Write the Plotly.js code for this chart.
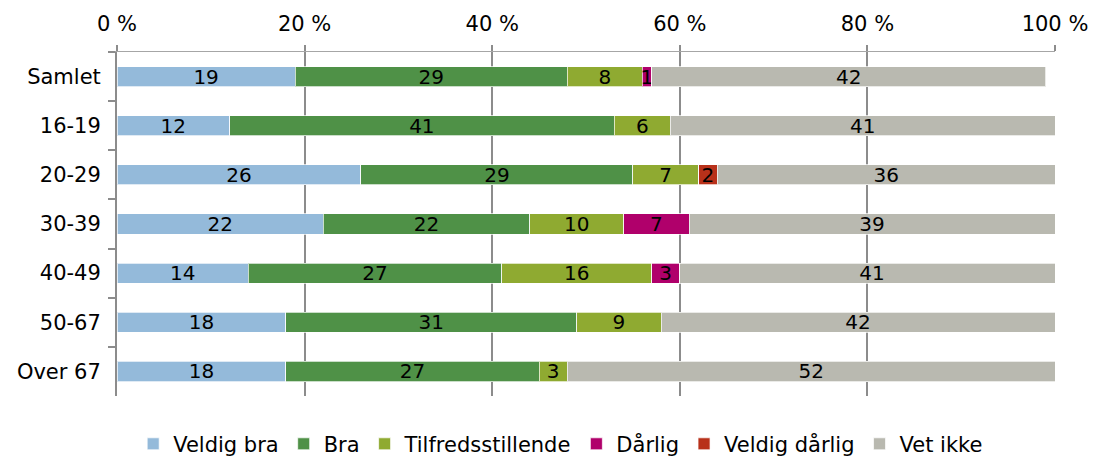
<!DOCTYPE html>
<html>
<head>
<meta charset="utf-8">
<script src="https://cdn.plot.ly/plotly-3.0.1.min.js"></script>
<style>html,body{margin:0;padding:0;background:#fff;}#chart{width:1094px;height:459px;}</style>
</head>
<body>
<div id="chart"></div>
<script>
const categories = ["Samlet", "16-19", "20-29", "30-39", "40-49", "50-67", "Over 67"];
const seriesNames = ["Veldig bra", "Bra", "Tilfredsstillende", "Dårlig", "Veldig dårlig", "Vet ikke"];
const veldigBra     = [19, 12, 26, 22, 14, 18, 18];
const bra           = [29, 41, 29, 22, 27, 31, 27];
const tilfreds      = [8, 6, 7, 10, 16, 9, 3];
const darlig        = [1, 0, 0, 7, 3, 0, 0];
const veldigDarlig  = [0, 0, 2, 0, 0, 0, 0];
const vetIkke       = [42, 41, 36, 39, 41, 42, 52];
const xTickValues = [0, 20, 40, 60, 80, 100];

const seriesValues = [veldigBra, bra, tilfreds, darlig, veldigDarlig, vetIkke];
const colors = ["#94BADA", "#4F9147", "#8FAA31", "#B0006B", "#B8311A", "#B9B9B0"];
const FONT = "DejaVu Sans, Verdana, sans-serif";

const traces = seriesValues.map((vals, i) => ({
  type: "bar",
  orientation: "h",
  name: seriesNames[i],
  y: categories,
  x: vals,
  text: vals.map(v => v ? String(v) : ""),
  textposition: "inside",
  insidetextanchor: "middle",
  textangle: 0,
  textfont: {family: FONT, size: 20, color: "#000"},
  marker: {color: colors[i], line: {color: "rgba(255,255,255,0.7)", width: 1}},
  hoverinfo: "skip"
}));

const layout = {
  width: 1094, height: 459,
  margin: {l: 117, r: 39, t: 52, b: 63, autoexpand: false},
  barmode: "stack",
  bargap: 0.59,
  paper_bgcolor: "#fff", plot_bgcolor: "#fff",
  font: {family: FONT, size: 20, color: "#000"},
  uniformtext: {minsize: 20, mode: "show"},
  showlegend: true,
  legend: {orientation: "h", x: 0.473, xanchor: "center", y: -0.14, yanchor: "middle",
           font: {family: FONT, size: 21, color: "#000"}, traceorder: "normal", itemwidth: 30},
  xaxis: {
    side: "top", range: [0, 100], tickvals: xTickValues,
    ticktext: xTickValues.map(v => v + " %"),
    showgrid: true, gridcolor: "#8C8C8C", gridwidth: 2,
    showline: true, linecolor: "#A6A6A6", linewidth: 1,
    ticks: "outside", ticklen: 6, tickcolor: "#8C8C8C", tickwidth: 2,
    zeroline: false, fixedrange: true, automargin: false,
    tickfont: {family: FONT, size: 21, color: "#000"},
    ticklabelstandoff: 6
  },
  yaxis: {
    type: "category", autorange: "reversed",
    showline: true, linecolor: "#8C8C8C", linewidth: 2,
    ticks: "outside", tickson: "boundaries", ticklen: 7, tickcolor: "#8C8C8C", tickwidth: 2,
    showgrid: false, zeroline: false, fixedrange: true, automargin: false,
    tickfont: {family: FONT, size: 21, color: "#000"},
    ticklabelstandoff: 10
  }
};

Plotly.newPlot("chart", traces, layout, {displayModeBar: false, staticPlot: true});
</script>
</body>
</html>
